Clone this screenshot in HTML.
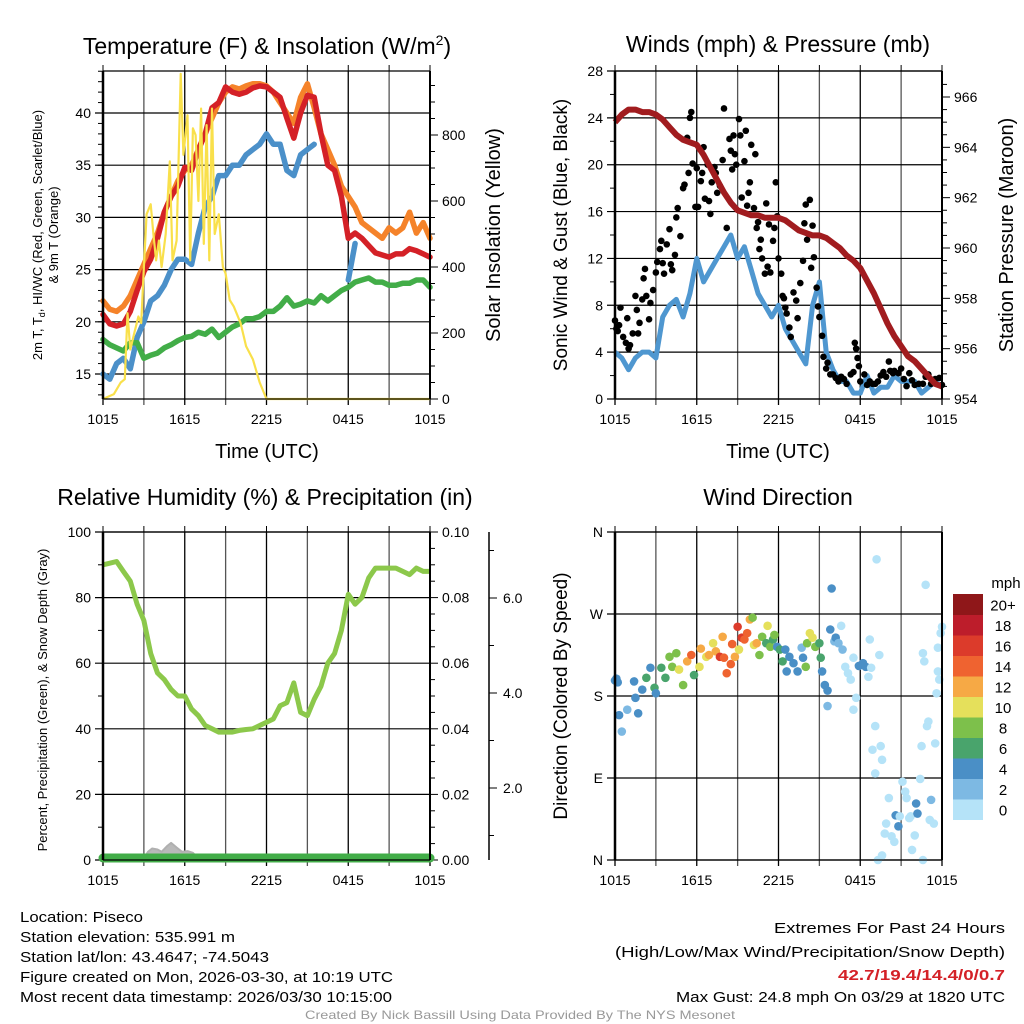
<!DOCTYPE html>
<html><head><meta charset="utf-8">
<style>
html,body{margin:0;padding:0;background:#fff;}
svg{display:block;font-family:"Liberation Sans",sans-serif;}
</style></head>
<body>
<svg id="fig" width="1024" height="1024" viewBox="0 0 1024 1024" xmlns="http://www.w3.org/2000/svg"></svg>
<script>
// ---------- DATA ----------
const timeTicks = ["1015","1615","2215","0415","1015"];
const hrs = [0,0.5,1,1.5,2,2.5,3,3.5,4,4.5,5,5.5,6,6.5,7,7.5,8,8.5,9,9.5,10,10.5,11,11.5,12,12.5,13,13.5,14,14.5,15,15.5,16,16.5,17,17.5,18,18.5,19,19.5,20,20.5,21,21.5,22,22.5,23,23.5,24];
const tempRed = [20.7,19.8,19.6,19.8,21,23,24.8,26,28,30.5,32,33,34.8,34.5,36.5,38,40.5,41,42.5,42,41.8,42,42.4,42.6,42.5,42,41.5,39.5,37.6,40,41.7,41.5,38,35,34.5,32,28,28.5,28,27.3,26.6,26.4,26.2,26.5,26.5,27,26.8,26.5,26.2];
const temp9m = [22,21.2,21,21.5,22.5,24,25.5,27,28.5,30.5,32,33.5,34.5,35,36.5,38,39.5,41,42,42.5,42.3,42.6,42.8,42.8,42.6,42,41,40,39,41.5,42.8,40.5,38,36.5,35,33,32,31,29.5,29,28.5,28,29,28.5,29,30.5,28.5,29.5,28];
const windChill = [15,14.5,16,16.5,15.5,18.5,20,22,22.5,23.5,25,26,26,25.5,28.5,31,32,34,34,35,35,36,36.5,37,38,37,37,34.5,34,36,36.5,37,null,null,null,null,24,27.5,null,null,null,null,null,null,null,null,null,null,null];
const dewPoint = [18.3,17.8,17.5,17.2,18,18,16.5,16.8,17,17.5,17.8,18.2,18.5,18.6,19,18.8,19.3,18.5,19,19.5,19.8,20.3,20.3,20.5,21,21,21.5,22.3,21.5,21.7,22,21.8,22.5,22,22.5,23,23.3,23.8,24,24.2,23.8,23.8,23.5,23.5,23.7,23.7,24,24,23.3];
const solarT = [0,0.8,1.3,1.6,1.8,2,2.3,2.6,2.8,3,3.2,3.5,3.7,3.9,4.1,4.3,4.6,4.9,5.1,5.4,5.7,5.9,6.2,6.4,6.6,6.8,7,7.2,7.4,7.6,7.8,8,8.2,8.5,8.8,9,9.3,9.6,10.1,10.5,11,11.5,12,24];
const solarV = [0,15,50,60,260,150,200,250,230,400,560,590,500,420,480,400,500,720,420,480,985,740,860,420,820,800,600,880,470,830,420,880,500,560,400,380,300,280,230,160,120,50,0,0];
const windSpd = [4,3.5,2.5,3.5,4,4,3.5,7,8,8.5,7,9,12,10,11,12,13,14,12,13,11,9,8,7,8,6,5,4,3,8,10,4,2.5,1.5,1.5,0.5,0.5,2,0.5,1,1,2,1.5,1.5,1.5,0.5,1,1.5,1];
const pressure = [965,965.3,965.5,965.5,965.4,965.4,965.3,965.1,964.8,964.5,964.3,964.2,964.1,963.7,963.2,962.7,962.2,961.8,961.5,961.4,961.3,961.3,961.2,961.2,961.2,961.1,960.9,960.7,960.6,960.5,960.5,960.4,960.2,960,959.7,959.5,959.2,958.7,958.2,957.6,957,956.5,956.1,955.7,955.5,955.2,954.9,954.6,954.5];
const gustT = [0,0.1,0.2,0.3,0.4,0.6,0.8,0.9,1.0,1.1,1.3,1.5,1.6,1.7,1.8,2.0,2.1,2.2,2.3,2.5,2.6,2.8,3.0,3.1,3.3,3.4,3.5,3.6,3.8,4.0,4.1,4.2,4.4,4.5,4.6,4.8,5.0,5.1,5.3,5.4,5.5,5.6,5.7,5.9,6.0,6.1,6.3,6.4,6.5,6.6,6.8,6.9,7.0,7.1,7.3,7.4,7.5,7.7,7.9,8.0,8.2,8.4,8.5,8.6,8.7,8.8,8.9,9.1,9.2,9.3,9.5,9.6,9.7,9.8,9.9,10.0,10.2,10.3,10.4,10.5,10.6,10.7,10.8,11.0,11.1,11.2,11.3,11.4,11.6,11.7,11.8,11.9,12.0,12.2,12.3,12.4,12.5,12.6,12.8,12.9,13.1,13.3,13.4,13.6,13.8,13.9,14.0,14.1,14.3,14.4,14.5,14.6,14.8,14.9,15.0,15.2,15.3,15.5,15.6,15.8,16.0,16.2,16.4,16.6,16.8,17.0,17.3,17.5,17.6,17.7,17.8,17.9,18.0,18.3,18.5,18.7,18.9,19.1,19.3,19.5,19.7,19.9,20.1,20.2,20.4,20.5,20.8,21.0,21.2,21.4,21.6,21.8,22.0,22.3,22.6,22.8,23.0,23.2,23.5,23.8,24];
const gustV = [6.7,6,5.8,6.3,7.8,5.3,4.8,6.9,4.3,4.6,5.6,8.8,7.6,5.6,6.5,8.5,10.3,11.1,8.8,6.8,8.2,9.3,10.8,11.7,12.8,13.5,11.6,10.7,13.2,14.5,11.5,11,12.3,15.5,16.3,13.9,18,18.3,22.3,19.3,24,24.5,20.1,16.4,19.7,16.4,18.6,19.3,21.5,17.1,20,16.9,15.8,18.5,19.8,19.3,17.6,18.2,20.4,24.8,14.6,22.2,21.2,19.6,22.5,20.9,20,23.9,22.5,17.2,20.3,22.9,16.5,17.6,18.5,21.7,16.3,20.9,14.6,15.1,12.8,13.6,12,10.7,16.7,11.3,14.9,10.8,13.5,14.6,18.5,15.6,12,10.7,8.8,8.6,7.8,7.3,6.1,5.3,9.1,8.4,6.9,9.9,11.8,15,16.6,13.6,17,11.2,14.8,12.1,9.5,7.9,7,5.4,3.6,2.6,3.1,2.1,2.1,1.8,1.5,1.9,1.7,1.3,2.1,2.3,4.8,4.3,3.5,2.8,1.5,2.1,1.2,1.5,1.3,1.3,1.5,2,2.3,1.9,3.2,2.4,2.2,2.4,2.2,2.6,1.7,1.1,2.2,1.6,1.2,1.3,1.3,1.9,2.1,1.3,1.7,1.8,1.2];
const relHum = [90,90.5,91,88,85,78,73,63,57,55,52,50,50,46,44,41,40,39,39,39,39.5,39.8,40,41,42,43,47,48,54,45,44,49,53,60,63,70,81,78,80,86,89,89,89,89,88,87,89,88,88];
const snowT = [3,3.3,3.6,4,4.3,4.7,5,5.4,5.8,6.2,6.6,7];
const snowV = [0.5,2.5,3.5,3.2,2.5,4.2,5.2,3.8,2.5,2.7,2.2,0.4];
const dirT = [0,0.1,0.2,0.3,0.5,0.9,1.4,1.5,1.7,2,2.3,2.6,2.9,3,3.4,3.7,4,4.2,4.5,4.7,5,5.3,5.6,5.8,6.2,6.3,6.7,6.9,7.2,7.4,7.7,7.9,8,8.2,8.5,8.6,8.8,9,9.1,9.3,9.5,9.7,9.9,10.1,10.2,10.4,10.6,10.8,11.1,11.2,11.4,11.6,11.7,11.9,12.1,12.3,12.5,12.6,12.8,13.1,13.4,13.7,13.8,14,14.1,14.3,14.5,14.7,15,15.1,15.2,15.4,15.6,15.6,15.8,15.9,16.1,16.2,16.4,16.6,16.7,16.9,17.1,17.3,17.5,17.7,17.5,17.9,18.2,18.4,18.6,18.7,18.8,19.1,18.9,19.1,19.2,19.4,19.5,19.6,19.3,19.6,19.8,19.9,20.1,20.3,20.5,20.6,20.8,20.9,21.1,21.3,21.4,21.6,21.7,21.8,22,22.1,22.2,22.4,22.5,22.6,22.6,22.7,22.8,22.9,23,23.1,23.2,23.4,23.5,23.6,23.7,23.7,23.8,23.9,24];
const dirV = [197,199,195,159,141,165,196,178,161,187,200,211,189,183,211,200,223,212,227,209,192,218,225,203,212,232,223,225,238,229,223,245,222,205,215,237,223,256,231,244,242,249,264,266,236,238,225,245,238,257,234,242,247,234,231,218,231,207,223,216,207,233,222,212,238,249,244,234,238,222,207,192,186,169,253,298,240,244,238,257,231,212,205,198,222,178,165,213,216,212,201,242,211,147,121,95,330,225,125,110,0,5,29,40,68,26,20,49,37,48,86,75,68,46,48,11,27,62,51,89,125,0,227,218,302,147,152,44,66,40,128,183,207,233,198,249,256];
const dirS = [4,4,4,4,2,2,4,4,4,4,6,4,6,4,6,6,8,8,8,10,8,12,14,6,10,12,10,12,10,12,16,12,14,14,14,14,12,16,10,16,14,14,12,8,10,12,8,8,6,10,8,6,8,4,6,6,4,4,4,4,4,2,4,8,8,10,10,8,6,6,4,4,4,2,4,4,2,4,2,0,2,0,0,0,0,0,0,4,4,4,0,0,0,0,0,0,0,0,0,0,0,0,0,0,0,0,0,4,4,0,0,0,0,0,0,0,0,4,4,0,0,0,0,0,0,0,0,0,2,0,0,0,0,0,0,0,0];
const speedBins = ["0","2","4","6","8","10","12","14","16","18","20+"];
const speedColors = ["#b5e3f8","#7db9e3","#4a8fc6","#49a46c","#7dc04b","#e5e05b","#f6a945","#ef6330","#dc3b2b","#bd1d2b","#8f1719"];

// ---------- HELPERS ----------
const NS="http://www.w3.org/2000/svg";
const svg=document.getElementById('fig');
function mk(tag,attrs,parent){const e=document.createElementNS(NS,tag);for(const k in attrs)e.setAttribute(k,attrs[k]);(parent||svg).appendChild(e);return e;}
function txt(s,attrs,parent){const e=mk('text',attrs,parent);e.textContent=s;return e;}
function linScale(d0,d1,r0,r1){return v=>r0+(v-d0)/(d1-d0)*(r1-r0);}

function panel(name,L,R,T,B){
  const g=mk('g',{});
  
  
  const x=linScale(0,24,L,R);
  for(let h=0;h<=24;h+=3){
    const l=mk('line',{x1:x(h),x2:x(h),y1:T,y2:B+6,stroke:(h%6===0)?'#000':'#555','stroke-width':1.3},g);
    
    
    mk('line',{x1:x(h),x2:x(h),y1:T-6,y2:T,stroke:'#000','stroke-width':1},g);
  }
  timeTicks.forEach((s,i)=>{
    const t=txt(s,{x:x(i*6),y:B+25,'font-size':14,'text-anchor':'middle',fill:'#000'},g);
    
    
  });
  return {g,x};
}
function hgrid(g,L,R,y,label){
  mk('line',{x1:L-8,x2:R,y1:y,y2:y,stroke:'#000','stroke-width':1.2},g);
  if(label!==null){const t=txt(label,{x:L-12,y:y+5,'font-size':14,'text-anchor':'end'},g);
  
  }
}
function rtick(g,R,y,label,len){
  mk('line',{x1:R,x2:R+(len||8),y1:y,y2:y,stroke:'#000','stroke-width':1},g);
  if(label!==null){const t=txt(label,{x:R+12,y:y+5,'font-size':14,'text-anchor':'start'},g);
  
  }
}
function pathFrom(xs,ys,xf,yf){
  let d='',pen=false;
  for(let i=0;i<xs.length;i++){
    if(ys[i]===null||ys[i]===undefined){pen=false;continue;}
    d+=(pen?'L':'M')+xf(xs[i]).toFixed(1)+','+yf(ys[i]).toFixed(1);pen=true;
  }
  return d;
}
function frame(g,L,R,T,B){
  mk('line',{x1:L,x2:R,y1:T,y2:T,stroke:'#000','stroke-width':1.3},g);
  mk('line',{x1:L,x2:L,y1:T,y2:B,stroke:'#000','stroke-width':2.5},g);
  mk('line',{x1:R,x2:R,y1:T,y2:B,stroke:'#000','stroke-width':2},g);
  mk('line',{x1:L,x2:R,y1:B,y2:B,stroke:'#000','stroke-width':1.3},g);
}
function title(s,x,y,name){const t=txt(s,{x:x,y:y,'font-size':23,'text-anchor':'middle'});
  
  return t;}
function vlabel(s,x,y,fs,name){const t=txt(s,{x:0,y:0,'font-size':fs,'text-anchor':'middle',transform:`translate(${x},${y}) rotate(-90)`});
  
  return t;}

// ---------- PANEL 1 ----------
(function(){
  const L=103,R=430,T=71,B=399;
  const p=panel('temperature-panel',L,R,T,B);const g=p.g,x=p.x;
  const y=linScale(15,40,374,113);
  const ys=linScale(0,800,399,135);
  [15,20,25,30,35,40].forEach(v=>hgrid(g,L,R,y(v),String(v)));
  for(let v=13;v<=44;v++) mk('line',{x1:L-5,x2:L,y1:y(v),y2:y(v),stroke:'#000','stroke-width':1},g);
  [0,200,400,600,800].forEach(v=>rtick(g,R,ys(v),String(v),8));
  for(let v=50;v<1000;v+=50) if(v%200) rtick(g,R,ys(v),null,5);
  const lines=[[temp9m,'#f5832a','line-9m-temp'],[tempRed,'#d42127','line-2m-temp'],[windChill,'#4b90c9','line-windchill'],[dewPoint,'#42ad48','line-dewpoint']];
  lines.forEach(([d,c,n])=>{const e=mk('path',{d:pathFrom(hrs,d,x,y),fill:'none',stroke:c,'stroke-width':5.5,'stroke-linejoin':'round','stroke-linecap':'round'},g);
    
    });
  const s=mk('path',{d:pathFrom(solarT,solarV,x,ys),fill:'none',stroke:'#f9e04b','stroke-width':2.2,'stroke-linejoin':'round'},g);
  
  
  frame(g,L,R,T,B);
  const tt=title('',267,54,'temperature-title');
  tt.innerHTML='Temperature (F) &amp; Insolation (W/m<tspan font-size="14" dy="-9">2</tspan><tspan dy="9">)</tspan>';
  const xl=txt('Time (UTC)',{x:267,y:458,'font-size':20,'text-anchor':'middle'});
  
  
  const a=txt('',{x:0,y:0,'font-size':13,'text-anchor':'middle',transform:'translate(42,235) rotate(-90)'});
  a.innerHTML='2m T, T<tspan font-size="9" dy="3">d</tspan><tspan dy="-3">, HI/WC (Red, Green, Scarlet/Blue)</tspan>';
  
  
  vlabel('& 9m T (Orange)',58,235,13,'y-axis-title-line2');
  vlabel('Solar Insolation (Yellow)',500,235,20,'y2-axis-title');
})();

// ---------- PANEL 2 ----------
(function(){
  const L=615,R=942,T=71,B=399;
  const p=panel('winds-panel',L,R,T,B);const g=p.g,x=p.x;
  const y=linScale(0,28,399,71);
  const yp=linScale(954,966,399,97);
  [0,4,8,12,16,20,24,28].forEach(v=>hgrid(g,L,R,y(v),String(v)));
  for(let v=2;v<28;v+=4) mk('line',{x1:L-5,x2:L,y1:y(v),y2:y(v),stroke:'#000','stroke-width':1},g);
  [954,956,958,960,962,964,966].forEach(v=>rtick(g,R,yp(v),String(v),8));
  for(let v=954.5;v<967;v+=0.5) if(v%2) rtick(g,R,yp(v),null,5);
  const w=mk('path',{d:pathFrom(hrs,windSpd,x,y),fill:'none',stroke:'#4f97d0','stroke-width':5,'stroke-linejoin':'round'},g);
  
  
  gustT.forEach((t,i)=>{const c=mk('circle',{cx:x(t),cy:y(gustV[i]),r:3.3,fill:'#000'},g);
    
    });
  const pr=mk('path',{d:pathFrom(hrs,pressure,x,yp),fill:'none',stroke:'#a11c1f','stroke-width':6,'stroke-linejoin':'round'},g);
  
  
  frame(g,L,R,T,B);
  title('Winds (mph) & Pressure (mb)',778,52,'winds-title');
  const xl=txt('Time (UTC)',{x:778,y:458,'font-size':20,'text-anchor':'middle'});
  
  
  vlabel('Sonic Wind & Gust (Blue, Black)',567,235,19,'y-axis-title');
  vlabel('Station Pressure (Maroon)',1013,235,20,'y2-axis-title');
})();

// ---------- PANEL 3 ----------
(function(){
  const L=103,R=430,T=532,B=860;
  const p=panel('humidity-panel',L,R,T,B);const g=p.g,x=p.x;
  const y=linScale(0,100,860,532);
  [0,20,40,60,80,100].forEach(v=>hgrid(g,L,R,y(v),String(v)));
  for(let v=10;v<100;v+=20) mk('line',{x1:L-5,x2:L,y1:y(v),y2:y(v),stroke:'#000','stroke-width':1},g);
  ['0.00','0.02','0.04','0.06','0.08','0.10'].forEach((s,i)=>rtick(g,R,y(i*20),s,8));
  for(let v=5;v<100;v+=5) if(v%20) rtick(g,R,y(v),null,5);
  const ysd=linScale(2,6,788,598);
  mk('line',{x1:489,x2:489,y1:532,y2:860,stroke:'#000','stroke-width':1.5},g);
  ['2.0','4.0','6.0'].forEach((s,i)=>{const v=(i+1)*2;
    mk('line',{x1:489,x2:497,y1:ysd(v),y2:ysd(v),stroke:'#000','stroke-width':1},g);
    const t=txt(s,{x:503,y:ysd(v)+5,'font-size':14},g);
    
    });
  for(let v=1;v<=7;v+=2) mk('line',{x1:489,x2:494,y1:ysd(v),y2:ysd(v),stroke:'#000','stroke-width':1},g);
  let d='M'+x(snowT[0])+',860';snowT.forEach((t,i)=>d+='L'+x(t).toFixed(1)+','+y(snowV[i]).toFixed(1));d+='L'+x(snowT[snowT.length-1])+',860Z';
  const sn=mk('path',{d:d,fill:'#b9b9b9',stroke:'#b0b0b0','stroke-width':2,'stroke-linejoin':'round'},g);
  
  
  const rh=mk('path',{d:pathFrom(hrs,relHum,x,y),fill:'none',stroke:'#8cc84b','stroke-width':5,'stroke-linejoin':'round'},g);
  
  
  const pc=mk('line',{x1:x(0),x2:x(24),y1:858,y2:858,stroke:'#42ad48','stroke-width':9,'stroke-linecap':'round'},g);
  
  
  frame(g,L,R,T,B);
  title('Relative Humidity (%) & Precipitation (in)',265,505,'humidity-title');
  vlabel('Percent, Precipitation (Green), & Snow Depth (Gray)',47,700,13,'y-axis-title');
})();

// ---------- PANEL 4 ----------
(function(){
  const L=615,R=942,T=532,B=860;
  const p=panel('wind-direction-panel',L,R,T,B);const g=p.g,x=p.x;
  const y=linScale(0,360,860,532);
  ['N','E','S','W','N'].forEach((s,i)=>hgrid(g,L,R,y(i*90),s));
  dirT.forEach((t,i)=>{const bi=Math.min(10,Math.floor(dirS[i]/2));
    const c=mk('circle',{cx:x(t),cy:y(dirV[i]),r:4.3,fill:speedColors[bi]},g);
    
    });
  frame(g,L,R,T,B);
  title('Wind Direction',778,505,'wind-direction-title');
  vlabel('Direction (Colored By Speed)',567,696,19,'y-axis-title');
  const cb=mk('g',{});
  
  
  const top=594,h=20.5;
  for(let i=0;i<11;i++){
    const yy=top+(10-i)*h;
    const r=mk('rect',{x:953,y:yy,width:30,height:h+0.5,fill:speedColors[i]},cb);
    
    
    const t=txt(speedBins[i],{x:1003,y:yy+h/2+6,'font-size':15,'text-anchor':'middle'},cb);
    
    
  }
  const u=txt('mph',{x:1006,y:588,'font-size':15,'text-anchor':'middle'},cb);
  
  
})();

// ---------- FOOTER TEXT ----------
const infoLines=['Location: Piseco','Station elevation: 535.991 m','Station lat/lon: 43.4647; -74.5043','Figure created on Mon, 2026-03-30, at 10:19 UTC','Most recent data timestamp: 2026/03/30 10:15:00'];
const infoW=[123,215,249,373,372];
infoLines.forEach((s,i)=>{const t=txt(s,{x:20,y:922+i*20,'font-size':15,textLength:infoW[i],lengthAdjust:'spacingAndGlyphs'});
  
  });
const ext=[['Extremes For Past 24 Hours',933,'#000','normal',231],['(High/Low/Max Wind/Precipitation/Snow Depth)',957,'#000','normal',390],['42.7/19.4/14.4/0/0.7',980,'#d42127','bold',167],['Max Gust: 24.8 mph On 03/29 at 1820 UTC',1002,'#000','normal',329]];
ext.forEach(([s,yy,c,w,tl])=>{const t=txt(s,{x:1005,y:yy,'font-size':15,'text-anchor':'end',fill:c,'font-weight':w,textLength:tl,lengthAdjust:'spacingAndGlyphs'});
  
  });
const cr=txt('Created By Nick Bassill Using Data Provided By The NYS Mesonet',{x:520,y:1019,'font-size':12,'text-anchor':'middle',fill:'#999',textLength:430,lengthAdjust:'spacingAndGlyphs'});


</script>
</body></html>
